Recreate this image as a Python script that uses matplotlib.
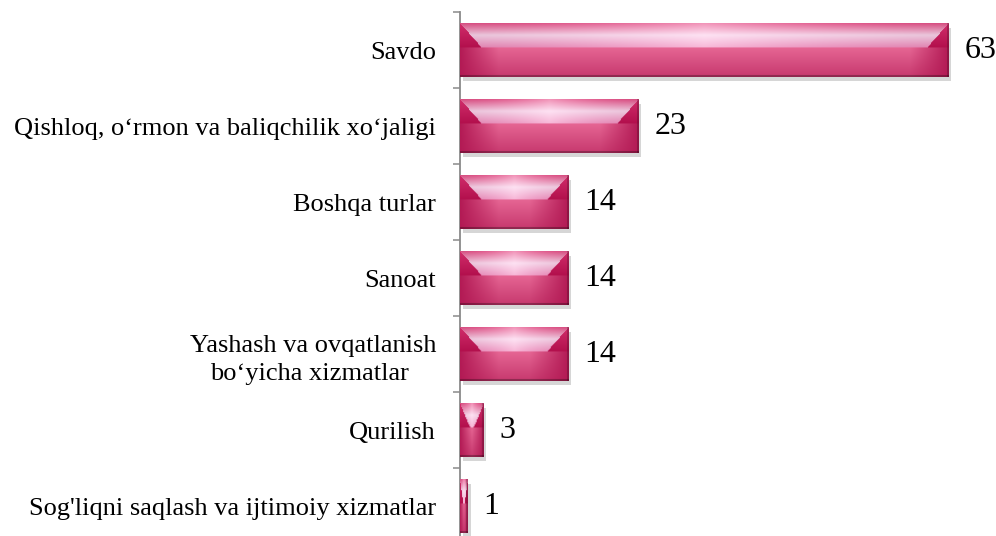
import numpy as np
import matplotlib
matplotlib.use("Agg")
import matplotlib.pyplot as plt
import matplotlib.patheffects as pe

categories = [
    "Savdo",
    "Qishloq, o\u2018rmon va baliqchilik xo\u2018jaligi",
    "Boshqa turlar",
    "Sanoat",
    "Yashash va ovqatlanish\nbo\u2018yicha xizmatlar ",
    "Qurilish",
    "Sog'liqni saqlash va ijtimoiy xizmatlar",
]
values = [63, 23, 14, 14, 14, 3, 1]

plt.rcParams["font.family"] = ["Liberation Serif", "DejaVu Serif"]

W, H = 996, 536
fig = plt.figure(figsize=(W / 100, H / 100), dpi=100)
# axis line at x=460, first tick at y=12, spacing 76 px (last tick falls below the image)
ax = fig.add_axes([460 / W, 1 - 544 / H, 536 / W, 532 / H])

y = np.arange(len(categories))
bars = ax.barh(y, values, height=0.70, color="#b01a50", zorder=2)
ax.set_xlim(0, 536 / 7.75)
ax.set_ylim(len(categories) - 0.5, -0.5)

for b in bars:
    b.set_path_effects([pe.SimplePatchShadow(offset=(2, -3), shadow_rgbFace="#9a9a9a", alpha=0.4), pe.Normal()])


def bevel_image(w, h):
    w = max(int(round(w)), 2)
    h = max(int(round(h)), 2)
    yy, xx = np.mgrid[0:h, 0:w] + 0.5
    bt = 0.45 * h
    bs = min(bt * 0.9, w * 0.42)
    k = bs / bt
    u = xx / w
    img = np.zeros((h, w, 3))

    # lower face
    edge = np.clip(np.minimum(xx, w - xx) / max(min(bs * 1.8, w / 2), 1), 0, 1)
    v = np.clip((yy - bt) / (h - bt), 0, 1)
    dark = np.array([0.70, 0.10, 0.33])
    mid = np.array([0.90, 0.40, 0.58])
    f = (edge * (1 - 0.6 * v))[..., None]
    face = dark + (mid - dark) * f

    # top facet: pink edge -> near white -> pink
    t = np.clip(yy / bt, 0, 1)[..., None]
    c0 = np.array([0.91, 0.32, 0.54])
    c1 = np.array([0.99, 0.84, 0.93])
    c2 = np.array([0.95, 0.56, 0.75])
    top = np.where(t < 0.5, c0 + (c1 - c0) * (t / 0.5), c1 + (c2 - c1) * ((t - 0.5) / 0.5))
    centre = (1 - np.abs(u - 0.5) * 2)[..., None]
    top = top + (np.array([1.0, 0.96, 0.99]) - top) * 0.4 * centre ** 2
    top = top * (0.92 + 0.08 * centre)

    # side triangles
    side = np.array([0.82, 0.18, 0.42]) - 0.12 * t

    in_top = yy < bt
    in_side = in_top & ((xx < yy * k) | (xx > w - yy * k))
    img[:] = face
    img[in_top] = top[in_top]
    img[in_side] = side[in_side]

    # darker rim along the bottom and right edge
    img[yy > h - 2.5] *= 0.72
    img[xx > w - 2.5] *= 0.8
    return np.clip(img, 0, 1)


fig.canvas.draw()
for b in bars:
    x0, y0, bw, bh = b.get_x(), b.get_y(), b.get_width(), b.get_height()
    p0 = ax.transData.transform((x0, y0))
    p1 = ax.transData.transform((x0 + bw, y0 + bh))
    img = bevel_image(abs(p1[0] - p0[0]), abs(p1[1] - p0[1]))
    im = ax.imshow(img, extent=[x0, x0 + bw, y0 + bh, y0], origin="upper",
                   aspect="auto", interpolation="bilinear", zorder=3)
    im.set_clip_path(b)

for b, val in zip(bars, values):
    ax.annotate(str(val), (b.get_width(), b.get_y() + b.get_height() / 2),
                xytext=(11.5, 0), textcoords="offset points",
                ha="left", va="center", fontsize=23, color="black")

ax.set_yticks(y)
ax.set_yticklabels(categories, fontsize=19, multialignment="center", linespacing=1.4)
ax.set_yticks(np.arange(len(categories) + 1) - 0.5, minor=True)
ax.tick_params(axis="y", which="major", length=0, pad=24 * 0.72)
ax.tick_params(axis="y", which="minor", length=5, width=1.1, color="#8a8a8a", direction="out")
ax.set_xticks([])

for s in ["top", "right", "bottom"]:
    ax.spines[s].set_visible(False)
ax.spines["left"].set_color("#8a8a8a")
ax.spines["left"].set_linewidth(1.3)

fig.savefig("out.png", dpi=100)
